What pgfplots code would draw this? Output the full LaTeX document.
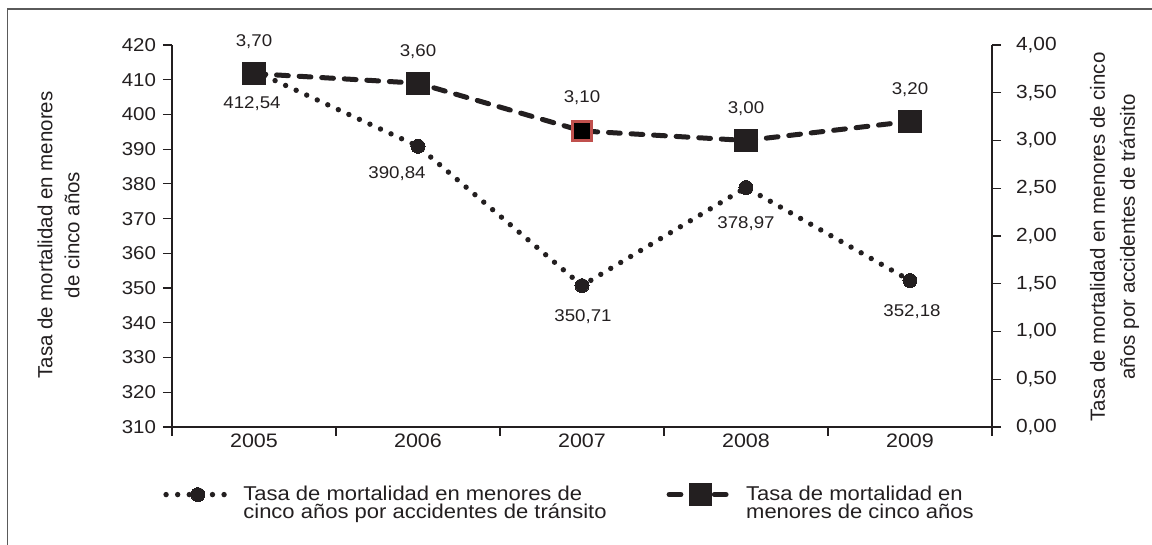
\documentclass[border=0pt]{standalone}
\usepackage{fontspec}
\setmainfont{Liberation Sans}[FakeStretch=1.1]
\newfontfamily\rotfont{Liberation Sans}
\usepackage{pgfplots}
\pgfplotsset{compat=1.18}
\usepackage{pgfplotstable}
\definecolor{ink}{HTML}{231F20}
\definecolor{redb}{HTML}{C0504D}
\definecolor{framec}{HTML}{5A5A5A}

\pgfplotstableread{
x y lab dx dy
0 412.54 412,54 -1 -16.5
1 390.84 390,84 -10.5 -13.5
2 350.71 350,71 0.5 -15.5
3 378.97 378,97 0 -18
4 352.18 352,18 1 -15.5
}\circdata

\pgfplotstableread{
x y lab dx dy
0 3.70 3,70 0 16
1 3.60 3,60 0 16
3 3.00 3,00 0 16
4 3.20 3,20 0 16
}\sqlabels

\pgfplotstableread{
x y
0 3.70
1 3.60
2 3.10
3 3.00
4 3.20
}\sqdata

\pgfplotstableread{
x y lab dx dy
2 3.10 3,10 0 16.5
}\reddata

\tikzset{
  dotline/.style={ink, line width=2.7pt, line cap=round, dash pattern=on 0pt off 5.8pt,
     mark=*, mark size=3.5pt, mark options={solid, fill=ink, draw=ink, line width=0pt}},
  dashline/.style={ink, line width=2.5pt, line cap=round, dash pattern=on 5.9pt off 5.4pt,
     mark=square*, mark size=5.5pt, mark options={solid, fill=ink, draw=ink, line width=0pt}},
}

\pgfplotsset{
  common/.style={
    at={(86pt,59pt)}, anchor=south west,
    scale only axis, width=410pt, height=191pt,
    xmin=-0.5, xmax=4.5,
    axis line style={ink, line width=0.8pt, -},
    tick style={ink, line width=0.6pt},
    tick align=outside,
    major tick length=4.5pt,
    /pgf/number format/assume math mode=true,
    clip=false,
  },
  lbl/.style={
    nodes near coords, point meta=explicit symbolic,
    visualization depends on={\thisrow{dx} \as \dx},
    visualization depends on={\thisrow{dy} \as \dy},
    every node near coord/.style={anchor=center, xshift=\dx pt, yshift=\dy pt,
      font=\fontsize{8.5}{10}\selectfont, text=ink, inner sep=0pt},
  },
}

\begin{document}
\begin{tikzpicture}
\useasboundingbox (0,0) rectangle (576pt,272.5pt);
\draw[framec, line width=0.8pt] (3.75pt,-20pt) rectangle (600pt,267.9pt);

\begin{axis}[common,
  ymin=310, ymax=420,
  axis x line*=bottom, axis y line*=left,
  ytick={310,320,...,420},
  xtick={-0.5,0.5,1.5,2.5,3.5,4.5}, xticklabels={},
  extra x ticks={0,1,2,3,4},
  extra x tick labels={2005,2006,2007,2008,2009},
  extra x tick style={major tick length=0pt},
  yticklabel style={font=\fontsize{9.3}{10}\selectfont, text=ink},
  xticklabel style={font=\fontsize{9.75}{10}\selectfont, text=ink},
]
\addplot[dotline, lbl] table[x=x, y=y, meta=lab] {\circdata};
\end{axis}

\begin{axis}[common,
  ymin=0, ymax=4,
  axis x line=none, axis y line*=right,
  ytick={0,0.5,...,4},
  yticklabel style={font=\fontsize{9.5}{10}\selectfont, text=ink, xshift=4pt,
    /pgf/number format/.cd, fixed, fixed zerofill, precision=2, use comma},
  legend columns=2,
  legend style={at={(axis description cs:-0.011,-0.142)}, anchor=north west,
    draw=none, fill=none, inner sep=0pt,
    font=\fontsize{10}{9.2}\selectfont, text=ink,
    cells={anchor=west, align=left},
    /tikz/every odd column/.append style={column sep=3.5pt},
    /tikz/every even column/.append style={column sep=28pt}},
  legend image code/.code={\draw[mark repeat=2, mark phase=2, yshift=4.5pt, #1]
     plot coordinates {(0pt,0pt) (15.9pt,0pt) (31.8pt,0pt)};},
]
\addlegendimage{dotline}
\addlegendentry{Tasa de mortalidad en menores de\\cinco años por accidentes de tránsito}
\addlegendimage{dashline}
\addlegendentry{Tasa de mortalidad en\\menores de cinco años}
\addplot[dashline, mark indices={1,2,4,5}, forget plot] table[x=x, y=y] {\sqdata};
\addplot[only marks, mark=none, lbl, forget plot] table[x=x, y=y, meta=lab] {\sqlabels};
\addplot[only marks, mark=square*, mark size=4.6pt,
  mark options={draw=redb, fill=black, line width=1.4pt}, lbl, forget plot]
  table[x=x, y=y, meta=lab] {\reddata};
\end{axis}

\node[rotate=90, align=center, font=\rotfont\fontsize{10.25}{13.5}\selectfont, text=ink]
  at (29.25pt,155pt) {Tasa de mortalidad en menores\\de cinco años};
\node[rotate=90, align=center, font=\rotfont\fontsize{10.25}{15}\selectfont, text=ink]
  at (557.25pt,154pt) {Tasa de mortalidad en menores de cinco\\años por accidentes de tránsito};
\end{tikzpicture}
\end{document}
